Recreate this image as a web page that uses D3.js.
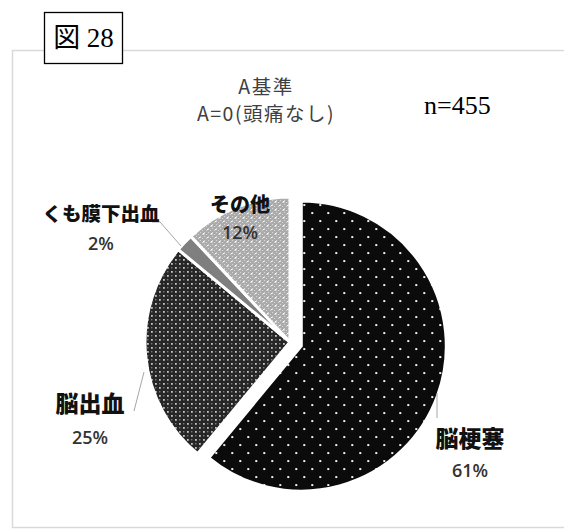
<!DOCTYPE html>
<html>
<head>
<meta charset="utf-8">
<script src="https://cdn.jsdelivr.net/npm/d3@7"></script>
<style>
  html, body { margin: 0; padding: 0; background: #fff; }
  svg { display: block; }
</style>
</head>
<body>
<svg id="chart" width="564" height="532"></svg>
<script>
// Stroke types, A=0 group (no headache)
const categories = ["脳梗塞", "脳出血", "くも膜下出血", "その他"];
const percents = [61, 25, 2, 12];
const titleLines = ["A基準", "A=0(頭痛なし)"];
const sampleLabel = "n=455";
const figureLabel = "図 28";

const svg = d3.select("#chart");
const W = 564, H = 532;

// ---- fill patterns ----
const defs = svg.append("defs");

// sparse white dots on black
const p0 = defs.append("pattern").attr("id", "pat0").attr("patternUnits", "userSpaceOnUse")
  .attr("width", 16).attr("height", 16);
p0.append("rect").attr("width", 16).attr("height", 16).attr("fill", "#0b0b0b");
[[2, 2], [10, 10]].forEach(([x, y]) =>
  p0.append("rect").attr("x", x).attr("y", y).attr("width", 2).attr("height", 2).attr("fill", "#f0f0f0"));

// dense light dots on dark grey
const p1 = defs.append("pattern").attr("id", "pat1").attr("patternUnits", "userSpaceOnUse")
  .attr("width", 8).attr("height", 8);
p1.append("rect").attr("width", 8).attr("height", 8).attr("fill", "#262626");
[[1, 1], [5, 5]].forEach(([x, y]) =>
  p1.append("rect").attr("x", x).attr("y", y).attr("width", 1.8).attr("height", 1.8).attr("fill", "#c4c4c4"));
[[5, 1], [1, 5]].forEach(([x, y]) =>
  p1.append("rect").attr("x", x).attr("y", y).attr("width", 1.4).attr("height", 1.4).attr("fill", "#7a7a7a"));

// white dots on light grey
const p3 = defs.append("pattern").attr("id", "pat3").attr("patternUnits", "userSpaceOnUse")
  .attr("width", 8).attr("height", 8);
p3.append("rect").attr("width", 8).attr("height", 8).attr("fill", "#ababab");
[[0, 0], [2, 2], [4, 0], [6, 2], [0, 4], [2, 6], [4, 4], [6, 6]].forEach(([x, y]) =>
  p3.append("rect").attr("x", x).attr("y", y).attr("width", 1).attr("height", 1).attr("fill", "#d6d6d6"));
[[1, 3], [5, 7]].forEach(([x, y]) =>
  p3.append("rect").attr("x", x).attr("y", y).attr("width", 1.5).attr("height", 1.5).attr("fill", "#ffffff"));

const fills = ["url(#pat0)", "url(#pat1)", "#7f7f7f", "url(#pat3)"];

// ---- chart frame ----
svg.append("rect").attr("x", 12.5).attr("y", 50.5).attr("width", W + 10).attr("height", 477)
  .attr("fill", "#fff").attr("stroke", "#d9d9d9").attr("stroke-width", 1.5);

// ---- figure number box ----
svg.append("rect").attr("x", 44.5).attr("y", 12.5).attr("width", 78).attr("height", 51)
  .attr("fill", "#fff").attr("stroke", "#000").attr("stroke-width", 1.3);
svg.append("text").attr("x", 83.5).attr("y", 47).attr("text-anchor", "middle")
  .attr("font-family", "'Liberation Serif', 'Noto Sans CJK JP', serif").attr("font-size", 27)
  .attr("fill", "#000").text(figureLabel);

// ---- title ----
const title = svg.append("text").attr("text-anchor", "middle")
  .attr("font-family", "'Noto Sans CJK JP', sans-serif").attr("font-size", 19.5)
  .attr("letter-spacing", 1.5).attr("fill", "#404040");
titleLines.forEach((t, i) => title.append("tspan").attr("x", 266).attr("y", 94 + i * 27).text(t));

svg.append("text").attr("x", 424).attr("y", 114)
  .attr("font-family", "'Liberation Serif', serif").attr("font-size", 26).attr("fill", "#000")
  .text(sampleLabel);

// ---- pie ----
const cx = 290, cy = 342, R = 145;
const pie = d3.pie().sort(null).value(d => d)(percents);
const arc = d3.arc().innerRadius(0).outerRadius(R);
const explode = [12, 0, 0, 0];

const g = svg.append("g").attr("transform", `translate(${cx},${cy})`);
g.selectAll("path").data(pie).join("path")
  .attr("d", arc)
  .attr("transform", (d, i) => {
    const a = (d.startAngle + d.endAngle) / 2;
    return `translate(${Math.sin(a) * explode[i]},${-Math.cos(a) * explode[i]})`;
  })
  .attr("fill", (d, i) => fills[i])
  .attr("stroke", "#fff").attr("stroke-width", 3).attr("stroke-linejoin", "miter");

// ---- data labels with leader lines ----
const labelPos = [
  { x: 470, y: 437, dy: 33, size: 23, line: [[437, 393], [437, 418]] },
  { x: 90, y: 402, dy: 35, size: 23, line: [[134, 411], [144, 372]] },
  { x: 101, y: 212, dy: 31, size: 19.5, line: [[152, 222], [160, 222], [181, 246]] },
  { x: 240, y: 203, dy: 29, size: 20, line: null }
];

const leader = d3.line();
labelPos.forEach((p, i) => {
  if (p.line) {
    svg.append("path").attr("d", leader(p.line)).attr("fill", "none")
      .attr("stroke", "#a6a6a6").attr("stroke-width", 1);
  }
  svg.append("text").attr("x", p.x).attr("y", p.y).attr("text-anchor", "middle")
    .attr("dominant-baseline", "central")
    .attr("font-family", "'Noto Sans CJK JP', sans-serif").attr("font-weight", 900)
    .attr("font-size", p.size).attr("fill", "#111")
    .text(categories[i]);
  svg.append("text").attr("x", p.x).attr("y", p.y + p.dy)
    .attr("text-anchor", "middle").attr("dominant-baseline", "central")
    .attr("font-family", "'Open Sans', 'Liberation Sans', sans-serif").attr("font-weight", 600)
    .attr("font-size", 18).attr("fill", "#333")
    .text(percents[i] + "%");
});
</script>
</body>
</html>
